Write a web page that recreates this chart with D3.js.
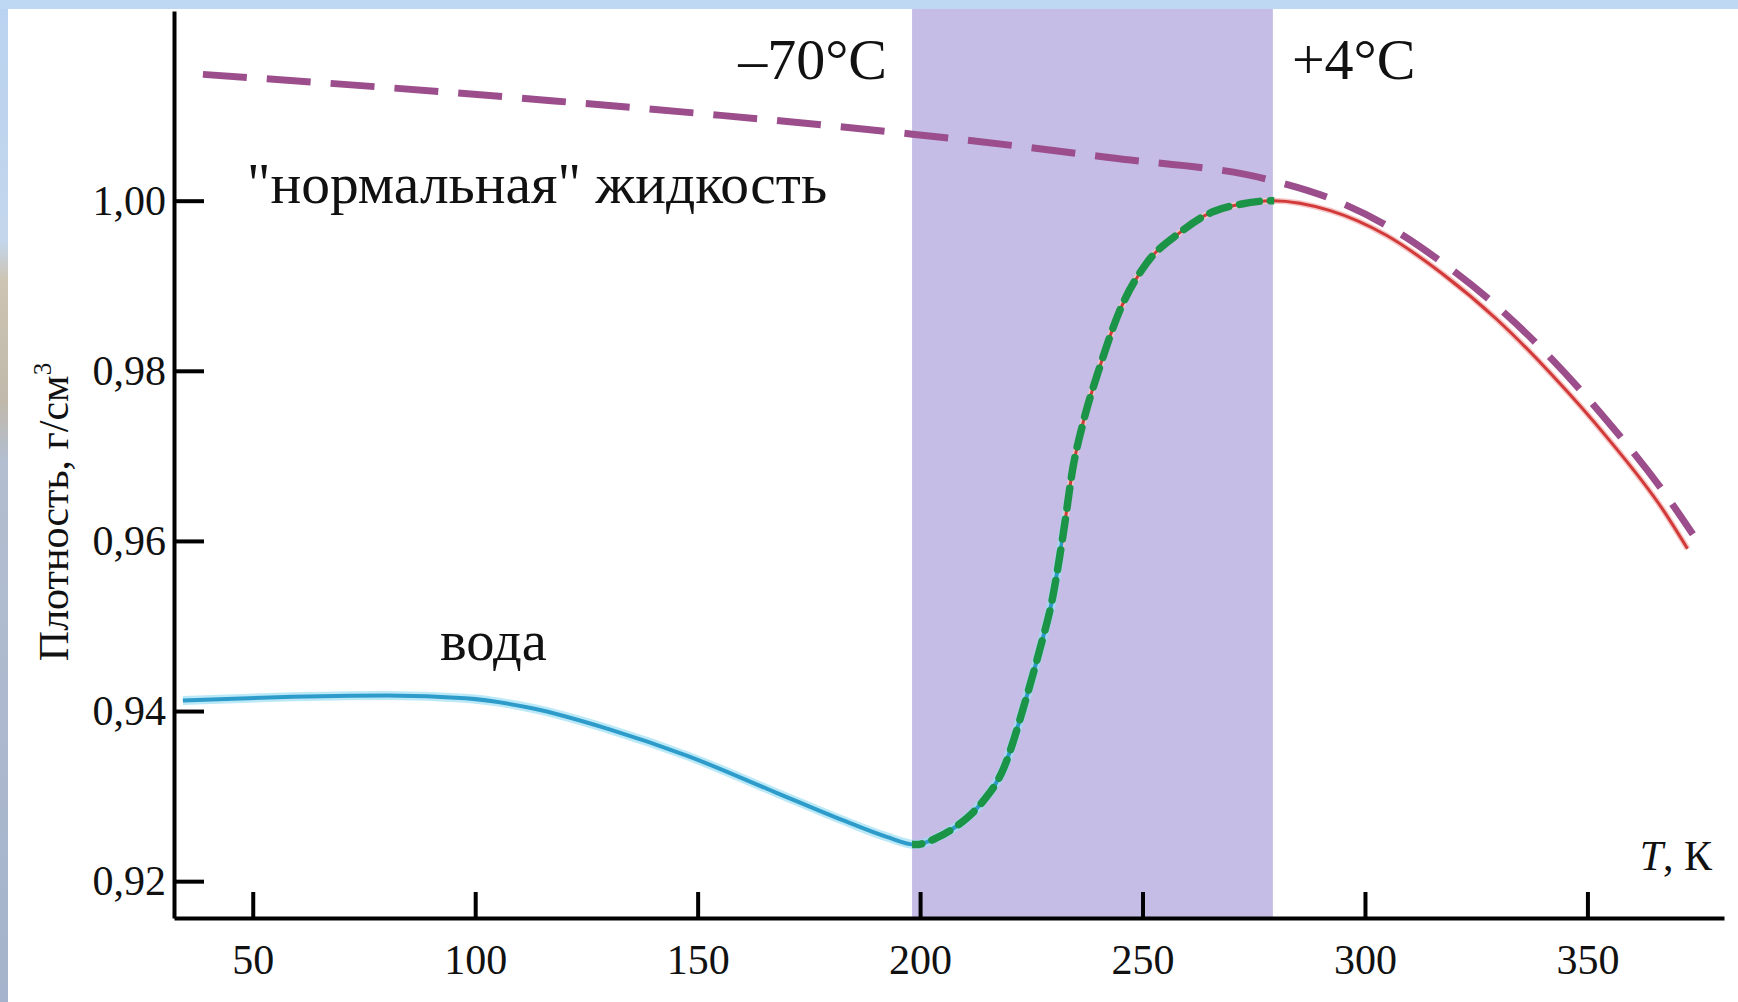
<!DOCTYPE html>
<html>
<head>
<meta charset="utf-8">
<script src="https://cdn.jsdelivr.net/npm/d3@7"></script>
<style>
  body { margin: 0; background: #fff; }
  svg { display: block; }
  text { font-family: "Liberation Serif", "Times New Roman", serif; fill: #111; }
</style>
</head>
<body>
<div id="chart"></div>
<script>
// плотность "нормальной" жидкости (штриховая кривая)
const normalT   = [38.8, 80.4, 117.8, 155.2, 198.3, 242.4, 279.3, 292.2, 304.7, 317.1, 329.6, 342.0, 354.5, 367.0, 373.7];
const normalRho = [1.01485, 1.01329, 1.01173, 1.01003, 1.00782, 1.00508, 1.00235, 1.00026, 0.99713, 0.99283, 0.98762, 0.98137, 0.97407, 0.96586, 0.96078];

// плотность воды
const waterT   = [34.3, 55.5, 80.4, 97.8, 112.8, 130.2, 147.7, 167.6, 182.6, 192.5, 199.0, 203.7, 208.7, 213.7, 218.7, 223.7, 226.9, 229.7, 232.2, 234.4, 236.6, 240.4, 244.9, 250.8, 258.3, 265.8, 272.3, 279.3, 292.2, 304.7, 317.1, 329.6, 342.0, 354.5, 367.0, 372.5];
const waterRho = [0.94124, 0.94163, 0.94182, 0.94150, 0.94033, 0.93785, 0.93473, 0.93042, 0.92717, 0.92521, 0.92430, 0.92508, 0.92665, 0.92912, 0.93316, 0.94124, 0.94723, 0.95309, 0.96091, 0.96873, 0.97381, 0.98046, 0.98710, 0.99257, 0.99622, 0.99870, 0.99961, 1.00000, 0.99883, 0.99596, 0.99153, 0.98606, 0.97954, 0.97212, 0.96365, 0.95909];

const xTicks = [50, 100, 150, 200, 250, 300, 350];
const yTicks = [0.92, 0.94, 0.96, 0.98, 1.00];
const band = [198.2, 279.3];      // от -70°C до +4°C
const blueUntil = 232.2;          // где синяя кривая переходит в красную
const bandLabels = ["–70°C", "+4°C"];

const W = 1738, H = 1002;

const svg = d3.select("#chart").append("svg")
  .attr("width", W)
  .attr("height", H);

const defs = svg.append("defs");
const grad = defs.append("linearGradient")
  .attr("id", "leftStrip")
  .attr("x1", 0).attr("y1", 0).attr("x2", 0).attr("y2", 1);
[["0%", "#bad3f0"], ["24%", "#c3d6ec"], ["28%", "#cdc4b3"], ["40%", "#c0b8aa"], ["46%", "#b3bed0"], ["100%", "#a4b3cb"]]
  .forEach(s => grad.append("stop").attr("offset", s[0]).attr("stop-color", s[1]));

// рамка слайда
svg.append("rect").attr("x", 0).attr("y", 0).attr("width", W).attr("height", H).attr("fill", "#fff");
svg.append("rect").attr("x", 0).attr("y", 0).attr("width", 8).attr("height", H).attr("fill", "url(#leftStrip)");
svg.append("rect").attr("x", 0).attr("y", 0).attr("width", W).attr("height", 9).attr("fill", "#bed7f3");

const x = d3.scaleLinear().domain([32.3, 380.7]).range([174, 1724]);
const y = d3.scaleLinear().domain([0.91567, 1.0223]).range([918, 11]);

// закрашенная область
svg.append("rect")
  .attr("x", x(band[0]))
  .attr("y", 9)
  .attr("width", x(band[1]) - x(band[0]))
  .attr("height", y(0.91567) - 9)
  .attr("fill", "#c5bde6");

const water = waterT.map((t, i) => ({ t: t, v: waterRho[i] }));
const normal = normalT.map((t, i) => ({ t: t, v: normalRho[i] }));

const line = d3.line()
  .x(d => x(d.t))
  .y(d => y(d.v))
  .curve(d3.curveMonotoneX);

function clip(id, t0, t1) {
  defs.append("clipPath").attr("id", id)
    .append("rect")
    .attr("x", x(t0)).attr("y", 0)
    .attr("width", x(t1) - x(t0)).attr("height", H);
}
clip("clipBlue", 20, blueUntil);
clip("clipRed", blueUntil, 400);
clip("clipGreen", band[0], band[1] + 0.3);

// синяя часть (с ореолом)
svg.append("path").datum(water)
  .attr("clip-path", "url(#clipBlue)")
  .attr("d", line)
  .attr("fill", "none")
  .attr("stroke", "#9fe0f4")
  .attr("stroke-width", 9)
  .attr("stroke-opacity", 0.7);
svg.append("path").datum(water)
  .attr("clip-path", "url(#clipBlue)")
  .attr("d", line)
  .attr("fill", "none")
  .attr("stroke", "#2e9ccb")
  .attr("stroke-width", 4);

// красная часть
svg.append("path").datum(water)
  .attr("clip-path", "url(#clipRed)")
  .attr("d", line)
  .attr("fill", "none")
  .attr("stroke", "#f6c7c7")
  .attr("stroke-width", 6);
svg.append("path").datum(water)
  .attr("clip-path", "url(#clipRed)")
  .attr("d", line)
  .attr("fill", "none")
  .attr("stroke", "#d23a3a")
  .attr("stroke-width", 3);

// зелёный пунктир поверх
svg.append("path").datum(water)
  .attr("clip-path", "url(#clipGreen)")
  .attr("d", line)
  .attr("fill", "none")
  .attr("stroke", "#1b9447")
  .attr("stroke-width", 7.5)
  .attr("stroke-linecap", "round")
  .attr("stroke-dasharray", "20 11");

// "нормальная" жидкость
svg.append("path").datum(normal)
  .attr("d", line)
  .attr("fill", "none")
  .attr("stroke", "#9b4e8b")
  .attr("stroke-width", 7)
  .attr("stroke-dasharray", "44 20");

// оси
const xAxis = svg.append("g")
  .attr("transform", "translate(0," + y(0.91567) + ")")
  .call(d3.axisBottom(x).tickValues(xTicks).tickSize(-26).tickSizeOuter(0).tickPadding(26));
xAxis.select(".domain").attr("stroke", "#000").attr("stroke-width", 4);
xAxis.selectAll(".tick line").attr("stroke", "#000").attr("stroke-width", 4);
xAxis.selectAll(".tick text")
  .attr("font-family", "Liberation Serif, serif")
  .attr("font-size", 42)
  .attr("fill", "#111");

const yAxis = svg.append("g")
  .attr("transform", "translate(" + x(32.3) + ",0)")
  .call(d3.axisLeft(y).tickValues(yTicks).tickSize(-30).tickSizeOuter(0).tickPadding(8)
    .tickFormat(d => d.toFixed(2).replace(".", ",")));
yAxis.select(".domain").attr("stroke", "#000").attr("stroke-width", 4);
yAxis.selectAll(".tick line").attr("stroke", "#000").attr("stroke-width", 4);
yAxis.selectAll(".tick text")
  .attr("font-family", "Liberation Serif, serif")
  .attr("font-size", 42)
  .attr("fill", "#111");

// подписи
svg.append("text")
  .attr("x", x(band[0]) - 25).attr("y", 79)
  .attr("text-anchor", "end")
  .attr("font-size", 58)
  .text(bandLabels[0]);
svg.append("text")
  .attr("x", x(band[1]) + 19).attr("y", 79)
  .attr("font-size", 58)
  .text(bandLabels[1]);

svg.append("text")
  .attr("x", 247).attr("y", 203)
  .attr("font-size", 57.5)
  .text("\"нормальная\" жидкость");

svg.append("text")
  .attr("x", 440).attr("y", 660)
  .attr("font-size", 56.5)
  .text("вода");

const tk = svg.append("text")
  .attr("x", 1712).attr("y", 870)
  .attr("text-anchor", "end")
  .attr("font-size", 42);
tk.append("tspan").attr("font-style", "italic").text("T");
tk.append("tspan").text(", К");

const yl = svg.append("text")
  .attr("transform", "translate(68,512) rotate(-90)")
  .attr("text-anchor", "middle")
  .attr("font-size", 42);
yl.append("tspan").text("Плотность, г/см");
yl.append("tspan").attr("font-size", 25).attr("dy", -17).text("3");
</script>
</body>
</html>
